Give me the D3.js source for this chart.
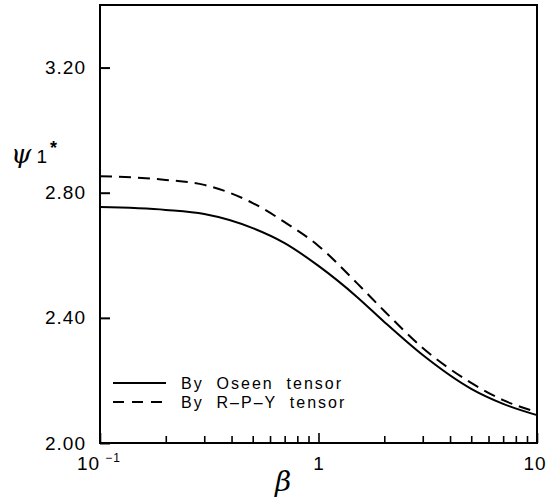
<!DOCTYPE html>
<html>
<head>
<meta charset="utf-8">
<script src="https://cdn.jsdelivr.net/npm/d3@7"></script>
<style>
  body { margin: 0; background: #fff; }
  text { font-family: "Liberation Sans", Arial, sans-serif; fill: #000; }
</style>
</head>
<body>
<div class="chart"></div>
<script>
const svgWidth = 556, svgHeight = 500;
const plotLeft = 100, plotRight = 537, plotTop = 5, plotBottom = 443;

// data
const betaValues = [0.1, 0.2, 0.3, 0.5, 0.7, 1, 1.5, 2, 3, 5, 7, 10];
const oseenValues = [2.754, 2.745, 2.732, 2.687, 2.639, 2.566, 2.467, 2.387, 2.281, 2.173, 2.125, 2.089];
const rpyValues = [2.853, 2.841, 2.825, 2.767, 2.706, 2.630, 2.511, 2.422, 2.304, 2.192, 2.137, 2.099];
const yTickValues = [2.0, 2.4, 2.8, 3.2];
const yTickLabels = ["2.00", "2.40", "2.80", "3.20"];
const xMajorTicks = [0.1, 1, 10];
const xMinorTicks = [0.2, 0.3, 0.4, 0.5, 0.6, 0.7, 0.8, 0.9, 2, 3, 4, 5, 6, 7, 8, 9];
const legendLabels = ["By  Oseen  tensor", "By  R\u2013P\u2013Y  tensor"];

var svg = d3.select(".chart").append("svg")
    .attr("width", svgWidth).attr("height", svgHeight);

var x = d3.scaleLog().domain([0.1, 10]).range([plotLeft, plotRight]);
var y = d3.scaleLinear().domain([2.0, 3.4]).range([plotBottom, plotTop]);

// y axis, ticks pointing inward
var yAxis = d3.axisLeft(y)
    .tickValues(yTickValues)
    .tickSize(-10)
    .tickPadding(14)
    .tickFormat(function (d, i) { return yTickLabels[i]; });
var yg = svg.append("g").attr("transform", "translate(" + plotLeft + ",0)").call(yAxis);
yg.select(".domain").remove();
yg.selectAll("line").attr("stroke", "#000").attr("stroke-width", 2);
yg.selectAll("text").style("font-size", "19px").style("letter-spacing", "1px")
    .style("font-family", '"Liberation Sans", Arial, sans-serif');

// x axis minor + major ticks
var xMinor = d3.axisBottom(x).tickValues(xMinorTicks).tickSize(-7).tickFormat("");
var xg1 = svg.append("g").attr("transform", "translate(0," + plotBottom + ")").call(xMinor);
xg1.select(".domain").remove();
xg1.selectAll("line").attr("stroke", "#000").attr("stroke-width", 1.6);

var xMajor = d3.axisBottom(x).tickValues(xMajorTicks).tickSize(-10).tickFormat("");
var xg2 = svg.append("g").attr("transform", "translate(0," + plotBottom + ")").call(xMajor);
xg2.select(".domain").remove();
xg2.selectAll("line").attr("stroke", "#000").attr("stroke-width", 1.6);

// x tick labels
var xl = svg.append("g");
var lab0 = xl.append("text").attr("x", x(0.1) - 23).attr("y", plotBottom + 27)
    .style("font-size", "19px").style("letter-spacing", "1px");
lab0.append("tspan").text("10");
lab0.append("tspan").attr("dx", 5).attr("dy", -8).style("font-size", "12px").text("\u22121");
xl.append("text").attr("x", x(1)).attr("y", plotBottom + 27).attr("text-anchor", "middle")
    .style("font-size", "19px").text("1");
xl.append("text").attr("x", x(10) - 2).attr("y", plotBottom + 27).attr("text-anchor", "middle")
    .style("font-size", "19px").style("letter-spacing", "1px").text("10");

// frame
svg.append("rect")
    .attr("x", plotLeft).attr("y", plotTop)
    .attr("width", plotRight - plotLeft).attr("height", plotBottom - plotTop)
    .attr("fill", "none").attr("stroke", "#000").attr("stroke-width", 2);

// curves
var line = d3.line()
    .x(function (d) { return x(d[0]); })
    .y(function (d) { return y(d[1]); })
    .curve(d3.curveMonotoneX);

svg.append("path")
    .datum(betaValues.map(function (b, i) { return [b, oseenValues[i]]; }))
    .attr("d", line).attr("fill", "none").attr("stroke", "#000").attr("stroke-width", 2);

svg.append("path")
    .datum(betaValues.map(function (b, i) { return [b, rpyValues[i]]; }))
    .attr("d", line).attr("fill", "none").attr("stroke", "#000").attr("stroke-width", 2)
    .attr("stroke-dasharray", "12,7");

// legend
var dashes = ["none", "11,8"];
legendLabels.forEach(function (t, i) {
    var ly = 383 + i * 19;
    svg.append("line").attr("x1", 113).attr("x2", 166).attr("y1", ly).attr("y2", ly)
        .attr("stroke", "#000").attr("stroke-width", 1.8).attr("stroke-dasharray", dashes[i]);
    svg.append("text").attr("x", 181).attr("y", ly + 6)
        .style("font-size", "16px").style("letter-spacing", "2px").style("white-space", "pre")
        .text(t);
});

// axis titles
svg.append("text").attr("x", 275).attr("y", 491)
    .style("font-family", '"DejaVu Serif", serif').style("font-style", "italic")
    .style("font-size", "28px").text("\u03b2");

var yt = svg.append("text").attr("x", 11).attr("y", 163);
yt.append("tspan").style("font-family", '"DejaVu Serif", serif').style("font-style", "italic")
    .style("font-size", "26px").text("\u03c8");
yt.append("tspan").attr("dx", 5).style("font-size", "19px").text("1");
yt.append("tspan").attr("dx", 3).attr("dy", -9).style("font-size", "18px")
    .style("font-weight", "bold").text("*");
</script>
</body>
</html>
